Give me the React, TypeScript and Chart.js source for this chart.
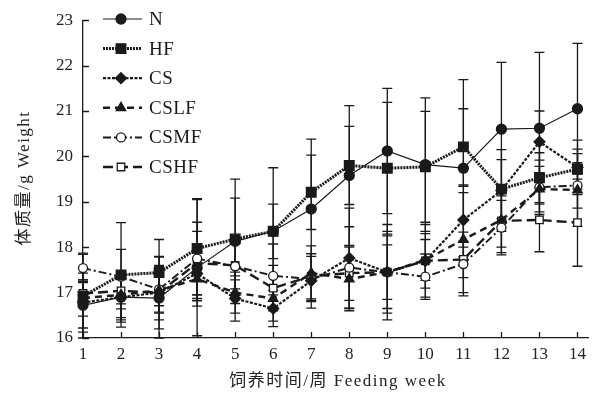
import React, { useEffect, useRef } from 'react';
import { Chart, registerables } from 'chart.js';
import { drawPoint } from 'chart.js/helpers';

Chart.register(...registerables);

// ---- data ----
const WEEKS = [1, 2, 3, 4, 5, 6, 7, 8, 9, 10, 11, 12, 13, 14];
const Y_TICKS = [16, 17, 18, 19, 20, 21, 22, 23];
const SERIES_NAMES = ['N', 'HF', 'CS', 'CSLF', 'CSMF', 'CSHF'];

const N_MEAN = [16.72, 16.9, 16.88, 17.55, 18.13, 18.35, 18.84, 19.58, 20.12, 19.82, 19.74, 20.6, 20.62, 21.05];
const N_SD = [0.5, 0.55, 0.9, 1.5, 1.37, 1.4, 1.54, 1.54, 1.38, 1.47, 1.95, 1.47, 1.67, 1.44];

const HF_MEAN = [16.92, 17.39, 17.44, 17.97, 18.18, 18.35, 19.21, 19.8, 19.74, 19.77, 20.21, 19.28, 19.53, 19.72];
const HF_SD = [0.95, 1.15, 0.73, 1.1, 0.9, 0.6, 0.82, 0.86, 1.45, 1.22, 0.84, 0.65, 0.55, 0.44];

const CS_MEAN = [16.78, 16.9, 17.0, 17.42, 16.87, 16.65, 17.26, 17.76, 17.45, 17.7, 18.6, 19.25, 20.32, 19.76];
const CS_SD = [0.65, 0.5, 0.6, 0.6, 0.5, 0.4, 0.6, 1.1, 1.05, 0.8, 0.6, 0.9, 0.68, 0.6];

const CSLF_MEAN = [16.88, 16.95, 17.05, 17.3, 17.0, 16.87, 17.43, 17.3, 17.45, 17.72, 18.17, 18.6, 19.28, 19.26];
const CSLF_SD = [0.4, 0.5, 0.5, 0.6, 0.45, 0.5, 0.6, 0.7, 0.6, 0.45, 1.17, 0.6, 0.5, 0.8];

const CSMF_MEAN = [17.54, 17.35, 17.07, 17.75, 17.58, 17.37, 17.3, 17.55, 17.45, 17.35, 17.63, 18.43, 19.32, 19.36];
const CSMF_SD = [0.3, 0.6, 0.5, 0.8, 0.5, 0.7, 0.5, 0.9, 0.9, 0.5, 0.7, 0.6, 0.6, 0.5];

const CSHF_MEAN = [16.98, 17.04, 17.0, 17.65, 17.6, 17.1, 17.36, 17.43, 17.45, 17.7, 17.73, 18.58, 18.6, 18.54];
const CSHF_SD = [0.3, 0.4, 0.8, 0.7, 0.6, 0.5, 0.5, 0.6, 0.8, 0.6, 0.4, 0.7, 0.7, 0.96];

const MEANS = [N_MEAN, HF_MEAN, CS_MEAN, CSLF_MEAN, CSMF_MEAN, CSHF_MEAN];
const SDS = [N_SD, HF_SD, CS_SD, CSLF_SD, CSMF_SD, CSHF_SD];

const X_TITLE = '饲养时间/周 Feeding week';
const Y_TITLE = '体质量/g Weight';

// ---- styles ----
const INK = '#1a1a1a';
const STYLES = [
  { pointStyle: 'circle', radius: 5, fill: INK, width: 1.2, dash: [] as number[] },
  { pointStyle: 'rect', radius: 6.8, fill: INK, width: 3, dash: [2, 1] },
  { pointStyle: 'rectRot', radius: 5.5, fill: INK, width: 2.2, dash: [3, 1.5] },
  { pointStyle: 'triangle', radius: 5.5, fill: INK, width: 2.4, dash: [7, 5] },
  { pointStyle: 'circle', radius: 4.5, fill: '#fff', width: 2, dash: [8, 3, 2, 3] },
  { pointStyle: 'rect', radius: 5.3, fill: '#fff', width: 2.4, dash: [10, 5] },
];

const SERIF = '"Liberation Serif", "DejaVu Serif", "Noto Sans CJK SC", serif';

const errorBars = {
  id: 'errorBars',
  beforeDatasetsDraw(chart: any) {
    const { ctx, scales } = chart;
    const x = scales.x, y = scales.y;
    ctx.save();
    ctx.strokeStyle = INK;
    ctx.lineWidth = 1.3;
    ctx.setLineDash([]);
    MEANS.forEach((m, si) => {
      m.forEach((v, i) => {
        const sd = SDS[si][i];
        const px = x.getPixelForValue(WEEKS[i]);
        const hi = Math.min(v + sd, 23);
        const lo = Math.max(v - sd, 16);
        const pt = y.getPixelForValue(hi);
        const pb = y.getPixelForValue(lo);
        ctx.beginPath();
        ctx.moveTo(px, pt);
        ctx.lineTo(px, pb);
        ctx.moveTo(px - 5, pt);
        ctx.lineTo(px + 5, pt);
        ctx.moveTo(px - 5, pb);
        ctx.lineTo(px + 5, pb);
        ctx.stroke();
      });
    });
    ctx.restore();
  },
};

const decorations = {
  id: 'decorations',
  afterDraw(chart: any) {
    const { ctx, scales, chartArea } = chart;
    const x = scales.x, y = scales.y;
    ctx.save();
    ctx.strokeStyle = INK;
    ctx.lineWidth = 1.3;
    ctx.setLineDash([]);
    // inward ticks
    ctx.beginPath();
    Y_TICKS.forEach((t) => {
      const py = Math.round(y.getPixelForValue(t)) + 0.5;
      ctx.moveTo(chartArea.left, py);
      ctx.lineTo(chartArea.left + 6, py);
    });
    WEEKS.forEach((w) => {
      const px = Math.round(x.getPixelForValue(w)) + 0.5;
      ctx.moveTo(px, chartArea.bottom);
      ctx.lineTo(px, chartArea.bottom - 6);
    });
    ctx.stroke();

    // legend
    const lx0 = 103, lx1 = 142, mx = 121, tx = 149;
    SERIES_NAMES.forEach((name, i) => {
      const st = STYLES[i];
      const ly = 19 + i * 29.6;
      ctx.save();
      ctx.strokeStyle = INK;
      ctx.lineWidth = st.width;
      ctx.setLineDash(st.dash);
      ctx.beginPath();
      ctx.moveTo(lx0, ly);
      ctx.lineTo(lx1, ly);
      ctx.stroke();
      ctx.setLineDash([]);
      ctx.fillStyle = st.fill;
      ctx.strokeStyle = INK;
      ctx.lineWidth = 1.3;
      drawPoint(ctx, { pointStyle: st.pointStyle, radius: st.radius, rotation: 0, borderWidth: 1.3 } as any, mx, ly);
      ctx.restore();
      ctx.fillStyle = INK;
      ctx.font = '19px ' + SERIF;
      (ctx as any).letterSpacing = '0.5px';
      ctx.textAlign = 'left';
      ctx.textBaseline = 'middle';
      ctx.fillText(name, tx, ly + 1);
    });

    // axis titles
    ctx.fillStyle = '#222';
    ctx.font = '17px ' + SERIF;
    (ctx as any).letterSpacing = '1.5px';
    ctx.textAlign = 'center';
    ctx.textBaseline = 'middle';
    ctx.fillText(X_TITLE, 338, 382);
    ctx.save();
    ctx.translate(25, 178);
    ctx.rotate(-Math.PI / 2);
    ctx.fillText(Y_TITLE, 0, 0);
    ctx.restore();
    ctx.restore();
  },
};

export default function App() {
  const ref = useRef<HTMLCanvasElement | null>(null);
  useEffect(() => {
    if (!ref.current) return;
    const datasets = SERIES_NAMES.map((name, si) => {
      const st = STYLES[si];
      return {
        label: name,
        data: WEEKS.map((w, i) => ({ x: w, y: MEANS[si][i] })),
        borderColor: INK,
        borderWidth: st.width,
        borderDash: st.dash,
        pointStyle: st.pointStyle,
        pointRadius: st.radius,
        pointBackgroundColor: st.fill,
        pointBorderColor: INK,
        pointBorderWidth: 1.3,
        tension: 0,
        clip: false as any,
      };
    });
    const chart = new Chart(ref.current, {
      type: 'line',
      data: { datasets } as any,
      options: {
        responsive: false,
        animation: false,
        devicePixelRatio: 1,
        layout: { padding: { top: 15, right: 7, left: 0, bottom: 0 } },
        plugins: { legend: { display: false }, tooltip: { enabled: false } },
        scales: {
          x: {
            type: 'linear',
            min: 1,
            max: 14.3,
            afterBuildTicks: (s: any) => { s.ticks = WEEKS.map((v) => ({ value: v })); },
            afterFit: (s: any) => { s.height = 57; },
            grid: { display: false, drawTicks: false },
            border: { display: true, color: INK, width: 1.3 },
            ticks: {
              padding: 6,
              color: '#222',
              font: { family: SERIF, size: 17 },
              maxRotation: 0,
              autoSkip: false,
              callback: (v: any) => String(v),
            },
          },
          y: {
            type: 'linear',
            min: 16,
            max: 23,
            afterBuildTicks: (s: any) => { s.ticks = Y_TICKS.map((v) => ({ value: v })); },
            afterFit: (s: any) => { s.width = 83; },
            grid: { display: false, drawTicks: false },
            border: { display: true, color: INK, width: 1.3 },
            ticks: {
              padding: 10,
              color: '#222',
              font: { family: SERIF, size: 17 },
              callback: (v: any) => String(v),
            },
          },
        },
      },
      plugins: [errorBars, decorations],
    });
    return () => chart.destroy();
  }, []);
  return (
    <div style={{ position: 'fixed', left: 0, top: 0, width: 597, height: 395, background: '#fff' }}>
      <canvas ref={ref} width={597} height={395} style={{ display: 'block', width: 597, height: 395 }} />
    </div>
  );
}
